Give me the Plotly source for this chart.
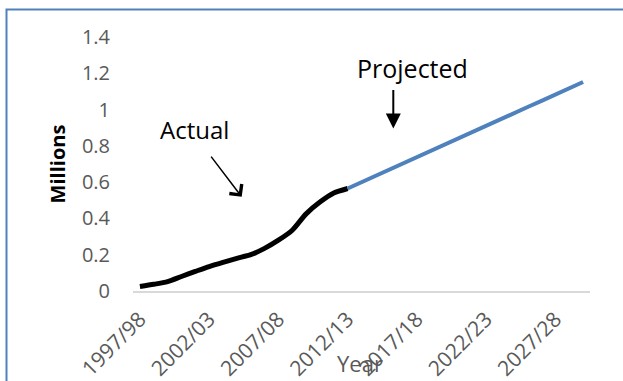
import plotly.graph_objects as go

# Financial years shown on the category axis
years = [
    "1997/98", "1998/99", "1999/00", "2000/01", "2001/02", "2002/03",
    "2003/04", "2004/05", "2005/06", "2006/07", "2007/08", "2008/09",
    "2009/10", "2010/11", "2011/12", "2012/13", "2013/14", "2014/15",
    "2015/16", "2016/17", "2017/18", "2018/19", "2019/20", "2020/21",
    "2021/22", "2022/23", "2023/24", "2024/25", "2025/26", "2026/27",
    "2027/28", "2028/29", "2029/30",
]

# Recorded figures (millions), 1997/98 to 2012/13
actual_years = years[:16]
actual_values = [0.025, 0.037, 0.052, 0.08, 0.108, 0.135, 0.158, 0.18,
                 0.2, 0.235, 0.28, 0.335, 0.425, 0.49, 0.54, 0.565]

# Projection (millions), 2012/13 to 2029/30
projected_years = years[15:]
projected_values = [0.565, 0.60, 0.634, 0.668, 0.703, 0.738, 0.773, 0.808,
                    0.843, 0.878, 0.912, 0.946, 0.98, 1.014, 1.048, 1.083,
                    1.117, 1.152]

# Labelled ticks (every fifth year) and y-axis ticks
shown_years = ["1997/98", "2002/03", "2007/08", "2012/13",
               "2017/18", "2022/23", "2027/28"]
y_ticks = [0, 0.2, 0.4, 0.6, 0.8, 1.0, 1.2, 1.4]
y_labels = ["0", "0.2", "0.4", "0.6", "0.8", "1", "1.2", "1.4"]

W, H = 623, 381
L, R, T, B = 133, 33, 36.6, 90
PW, PH = W - L - R, H - T - B
FONT = "Open Sans"
GREY = "#595959"
BLUE = "#4F81BD"


def px_x(p):
    return (p - L) / PW


def px_y(p):
    return (H - B - p) / PH


def label(text, x, y, size, color):
    return dict(text=text, xref="paper", yref="paper", x=px_x(x), y=px_y(y),
                xanchor="center", yanchor="middle", showarrow=False,
                font=dict(size=size, color=color))


def arrow(x, y, ax, ay, head, size, width):
    return dict(text="", xref="paper", yref="paper", x=px_x(x), y=px_y(y),
                ax=ax, ay=ay, showarrow=True, arrowhead=head,
                arrowsize=size, arrowwidth=width, arrowcolor="black",
                startstandoff=0, standoff=0, font=dict(size=1),
                xanchor="center", yanchor="middle")


fig = go.Figure()
fig.add_trace(go.Scatter(
    x=actual_years, y=actual_values, mode="lines",
    line=dict(color="black", width=5, shape="spline", smoothing=0.7),
    showlegend=False, hoverinfo="skip",
))
fig.add_trace(go.Scatter(
    x=projected_years, y=projected_values, mode="lines",
    line=dict(color=BLUE, width=4),
    showlegend=False, hoverinfo="skip",
))

fig.update_layout(
    width=W, height=H,
    margin=dict(l=L, r=R, t=T, b=B, pad=0, autoexpand=False),
    paper_bgcolor="white", plot_bgcolor="white",
    font=dict(family=FONT, color=GREY),
    xaxis=dict(
        type="category", categoryorder="array", categoryarray=years,
        range=[-0.5, len(years) - 0.5],
        tickmode="array", tickvals=shown_years, ticktext=shown_years,
        tickangle=-45, tickfont=dict(size=21, color=GREY),
        showline=True, linecolor="#d9d9d9", linewidth=1.5,
        showgrid=False, zeroline=False, ticks="",
        ticklabelstandoff=6, automargin=False,
    ),
    yaxis=dict(
        range=[0, 1.4], tickmode="array", tickvals=y_ticks, ticktext=y_labels,
        tickfont=dict(size=20, color=GREY),
        showgrid=False, zeroline=False, showline=False, ticks="",
        ticklabelstandoff=22, automargin=False,
        title=dict(text="<b>Millions</b>", font=dict(size=20, color="black"),
                   standoff=10),
    ),
    shapes=[
        # chart frame (left and top edges visible)
        dict(type="rect", xref="paper", yref="paper",
             x0=px_x(6.5), x1=px_x(W + 20), y0=px_y(H + 20), y1=px_y(9),
             line=dict(color=BLUE, width=2), fillcolor="rgba(0,0,0,0)",
             layer="below"),
    ],
    annotations=[
        label("Year", 360, 363, 22, GREY),
        label("Actual", 194, 129, 24, "black"),
        label("Projected", 412.5, 68, 25, "black"),
        arrow(241.7, 196.7, -31.7, -41.7, 4, 2, 1.5),
        arrow(393.3, 128.3, 0, -40, 2, 1.5, 2),
    ],
)

fig.write_html("out.html")
